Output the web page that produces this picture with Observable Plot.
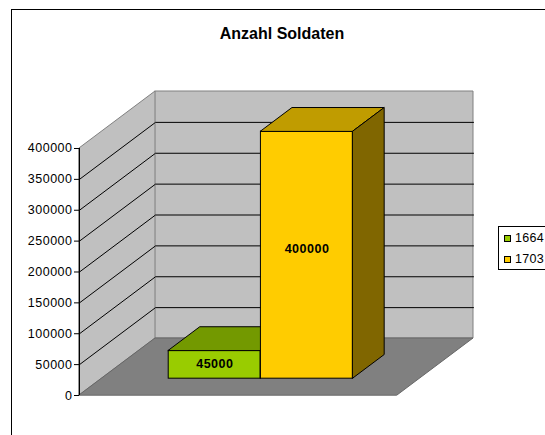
<!DOCTYPE html>
<html>
<head>
<meta charset="utf-8">
<script src="https://cdn.jsdelivr.net/npm/d3@7"></script>
<script src="https://cdn.jsdelivr.net/npm/@observablehq/plot@0.6"></script>
<style>
  body { margin: 0; background: #fff; font-family: "Liberation Sans", Arial, sans-serif; }
  #wrap { position: relative; width: 545px; height: 435px; overflow: hidden; background: #fff; }
  #frame { position: absolute; left: 11px; top: 9px; width: 620px; height: 520px; border: 1px solid #000; box-sizing: border-box; }
  #title { position: absolute; left: 0; width: 564px; top: 25px; text-align: center; font-weight: bold; font-size: 16px; color: #000; }
  #chart { position: absolute; left: 0; top: 0; }
  #legend { position: absolute; left: 498px; top: 226px; width: 80px; height: 44px; border: 1px solid #000; box-sizing: border-box; background: #fff; font-size: 12.5px; letter-spacing: 0.3px; }
  .item { position: absolute; left: 5px; height: 14px; line-height: 14px; white-space: nowrap; }
  .sw { display: inline-block; width: 7px; height: 7px; border: 1px solid #000; box-sizing: border-box; margin-right: 4px; vertical-align: 0px; }
</style>
</head>
<body>
<div id="wrap">
  <div id="frame"></div>
  <div id="title"></div>
  <div id="chart"></div>
  <div id="legend"></div>
</div>
<script>
// ---- data ----
const chartTitle = "Anzahl Soldaten";
const years = ["1664", "1703"];
const soldiers = [45000, 400000];
const yTicks = [0, 50000, 100000, 150000, 200000, 250000, 300000, 350000, 400000];
const frontColors = ["#99CC00", "#FFCC00"];
const topColors = ["#739900", "#C09C00"];
const sideColors = ["#5C7A00", "#806600"];

// ---- oblique projection parameters ----
const yMax = 400000;
const kx = 0.239;      // depth shift in category units
const ky = 92300;      // depth shift in value units
const d0 = 0.295, d1 = 0.71; // bar depth extent
const barW = 0.29;
const labelFrac = 0.524;

document.getElementById("title").textContent = chartTitle;

const bars = years.map((yr, i) => ({
  yr, v: soldiers[i],
  u0: 0.5 - barW + i * barW, u1: 0.5 + i * barW,
  front: frontColors[i], top: topColors[i], side: sideColors[i]
}));

const gridPts = yTicks.filter(t => t > 0 && t < yMax).flatMap(t => [
  {t, x: 0, y: t}, {t, x: kx, y: t + ky}, {t, x: 1 + kx, y: t + ky}
]);

const marks = [
  // back wall
  Plot.areaY([{x: kx, y1: ky, y2: yMax + ky}, {x: 1 + kx, y1: ky, y2: yMax + ky}],
    {x: "x", y1: "y1", y2: "y2", fill: "#C0C0C0", stroke: "#808080", strokeWidth: 1}),
  // side wall
  Plot.areaY([{x: 0, y1: 0, y2: yMax}, {x: kx, y1: ky, y2: yMax + ky}],
    {x: "x", y1: "y1", y2: "y2", fill: "#C0C0C0", stroke: "#808080", strokeWidth: 1}),
  // floor
  Plot.areaX([{y: 0, x1: 0, x2: 1}, {y: ky, x1: kx, x2: 1 + kx}],
    {y: "y", x1: "x1", x2: "x2", fill: "#808080", stroke: "#666666", strokeWidth: 1}),
  // gridlines
  Plot.line(gridPts, {x: "x", y: "y", z: "t", stroke: "#000", strokeWidth: 1}),
  // axis line
  Plot.ruleX([0], {y1: 0, y2: yMax, stroke: "#000", strokeWidth: 1}),
  Plot.axisY(yTicks, {anchor: "left", tickSize: 5, tickPadding: 2, tickFormat: d3.format("d"), fontSize: 12.5, label: null, stroke: "#000"})
];

for (const b of bars) {
  marks.push(
    Plot.rect([b], {x1: d => d.u0 + d0 * kx, x2: d => d.u1 + d0 * kx, y1: d0 * ky, y2: d => d.v + d0 * ky,
      fill: b.front, stroke: "#000", strokeWidth: 1}),
    Plot.areaX([{y: b.v + d0 * ky, x1: b.u0 + d0 * kx, x2: b.u1 + d0 * kx}, {y: b.v + d1 * ky, x1: b.u0 + d1 * kx, x2: b.u1 + d1 * kx}],
      {y: "y", x1: "x1", x2: "x2", fill: b.top, stroke: "#000", strokeWidth: 1}),
    Plot.areaY([{x: b.u1 + d0 * kx, y1: d0 * ky, y2: b.v + d0 * ky}, {x: b.u1 + d1 * kx, y1: d1 * ky, y2: b.v + d1 * ky}],
      {x: "x", y1: "y1", y2: "y2", fill: b.side, stroke: "#000", strokeWidth: 1})
  );
}

marks.push(Plot.text(bars, {
  x: d => (d.u0 + d.u1) / 2 + d0 * kx,
  y: d => d.v * labelFrac + d0 * ky,
  text: d => String(d.v),
  fontWeight: "bold", fontSize: 12.5, fill: "#000"
}));

const chart = Plot.plot({
  width: 545, height: 435,
  marginLeft: 79, marginRight: 72, marginTop: 91, marginBottom: 40,
  x: {type: "linear", domain: [0, 1 + kx], axis: null},
  y: {type: "linear", domain: [0, yMax + ky], axis: null},
  style: {fontFamily: "'Liberation Sans', Arial, sans-serif", fontSize: "12.5px", letterSpacing: "0.5px", color: "#000", background: "transparent", overflow: "visible"},
  marks
});
document.getElementById("chart").appendChild(chart);

// legend
const leg = document.getElementById("legend");
years.forEach((yr, i) => {
  const it = document.createElement("div");
  it.className = "item";
  it.style.top = (4 + i * 21) + "px";
  it.innerHTML = `<span class="sw" style="background:${frontColors[i]}"></span>${yr}`;
  leg.appendChild(it);
});
</script>
</body>
</html>
